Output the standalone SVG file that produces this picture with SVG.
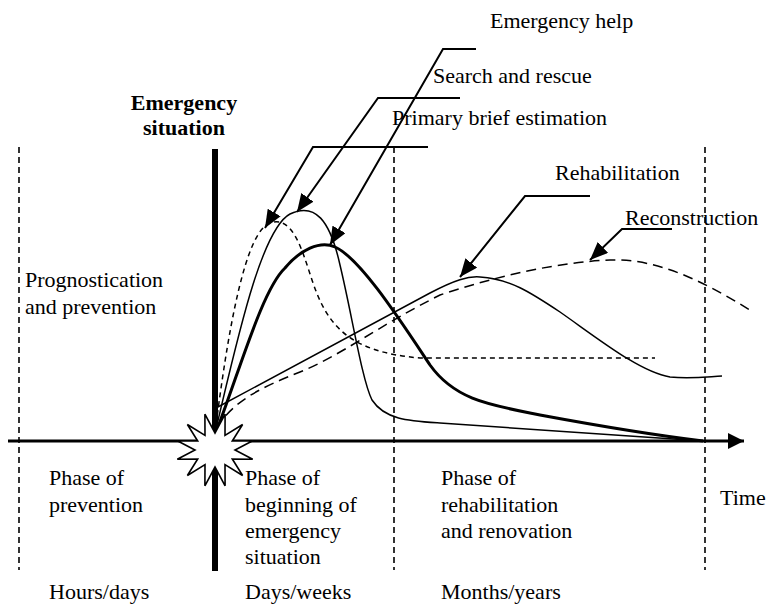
<svg xmlns="http://www.w3.org/2000/svg" width="768" height="604" viewBox="0 0 768 604">
<style>
text{font-family:"Liberation Serif","Times New Roman",serif;font-size:22px;fill:#000}
.b{font-weight:bold}
.vd{stroke:#000;stroke-width:1.6;stroke-dasharray:6,4;fill:none}
.thin{stroke:#000;stroke-width:1.5;fill:none}
.bold{stroke:#000;stroke-width:3;fill:none}
.dsh{stroke:#000;stroke-width:1.5;stroke-dasharray:5,4;fill:none}
.ldsh{stroke:#000;stroke-width:1.5;stroke-dasharray:10,6;fill:none}
.lead{stroke:#000;stroke-width:2;fill:none}
</style>
<defs>
<marker id="ah" markerUnits="userSpaceOnUse" markerWidth="19" markerHeight="15" refX="18" refY="7.5" orient="auto">
<path d="M0,0 L18,7.5 L0,15 z" fill="#000"/>
</marker>
<marker id="ax" markerUnits="userSpaceOnUse" markerWidth="18" markerHeight="16" refX="16" refY="8" orient="auto">
<path d="M0,0 L16,8 L0,16 z" fill="#000"/>
</marker>
</defs>

<g id="grid">
<line class="vd" x1="19" y1="147" x2="19" y2="570"/>
<line class="vd" x1="394" y1="147" x2="394" y2="570"/>
<line class="vd" x1="705" y1="147" x2="705" y2="570"/>
</g>

<g id="axis">
<line x1="8" y1="441" x2="744" y2="441" stroke="#000" stroke-width="3" marker-end="url(#ax)"/>
<line x1="215" y1="149" x2="215" y2="436" stroke="#000" stroke-width="6"/>
<line x1="215" y1="466" x2="215" y2="571" stroke="#000" stroke-width="6"/>
</g>

<g id="curves">
<path class="dsh" d="M215,433 C228,330 245,232 270,223 C293,215 302,250 312,280 C327,325 348,352 420,358 L655,358"/>
<path class="thin" d="M215,433 C235,350 260,230 290,214 C315,202 330,220 340,265 C352,315 362,380 372,400 C385,420 410,421 440,423 C550,430 650,437 703,441"/>
<path class="bold" d="M215,435 C240,370 262,290 285,268 C300,250 320,240 335,247 C360,258 400,320 430,365 C455,400 490,405 540,415 C610,428 670,437 703,441"/>
<path class="thin" d="M216,408 L430,293 C455,280 468,276 480,277 C510,279 530,292 560,312 C600,340 640,372 670,377 C690,379 705,377 722,376"/>
<path class="ldsh" d="M216,428 C235,400 260,388 300,372 C340,356 380,325 440,295 C500,275 560,262 610,260 C660,258 710,285 753,312"/>
</g>

<g id="star">
<polygon points="215,433 225.1,414.2 225,435.4 242.6,424.5 232.3,441 252.7,440.7 235,450 252.7,459.3 232.3,459 242.6,475.5 225,464.6 225.1,485.8 215,467 204.9,485.8 205,464.6 187.4,475.5 197.7,459 177.3,459.3 195,450 177.3,440.7 197.7,441 187.4,424.5 205,435.4 204.9,414.2" fill="#fff" stroke="#000" stroke-width="1.6" stroke-linejoin="miter"/>
</g>

<g id="connectors">
<polyline class="lead" points="476,49 443,49 330,245" marker-end="url(#ah)"/>
<polyline class="lead" points="460,98 378,98 297,212" marker-end="url(#ah)"/>
<polyline class="lead" points="428,147 313,147 265,228" marker-end="url(#ah)"/>
<polyline class="lead" points="590,196 525,196 460,277" marker-end="url(#ah)"/>
<polyline class="lead" points="672,229 622,229 590,260" marker-end="url(#ah)"/>
</g>

<g id="labels">
<text x="490" y="28">Emergency help</text>
<text x="433" y="83">Search and rescue</text>
<text x="392" y="125">Primary brief estimation</text>
<text x="555" y="180">Rehabilitation</text>
<text x="625" y="225">Reconstruction</text>
<text class="b" x="184" y="110" text-anchor="middle">Emergency</text>
<text class="b" x="184" y="135" text-anchor="middle">situation</text>
<text x="25" y="287">Prognostication</text>
<text x="25" y="314">and prevention</text>
<text x="720" y="505">Time</text>
</g>

<g id="phase-prevention">
<text x="49" y="485">Phase of</text>
<text x="49" y="512">prevention</text>
<text x="49" y="599">Hours/days</text>
</g>
<g id="phase-beginning">
<text x="245" y="485">Phase of</text>
<text x="245" y="512">beginning of</text>
<text x="245" y="538">emergency</text>
<text x="245" y="564">situation</text>
<text x="245" y="599">Days/weeks</text>
</g>
<g id="phase-rehabilitation">
<text x="441" y="485">Phase of</text>
<text x="441" y="512">rehabilitation</text>
<text x="441" y="538">and renovation</text>
<text x="441" y="599">Months/years</text>
</g>
</svg>
